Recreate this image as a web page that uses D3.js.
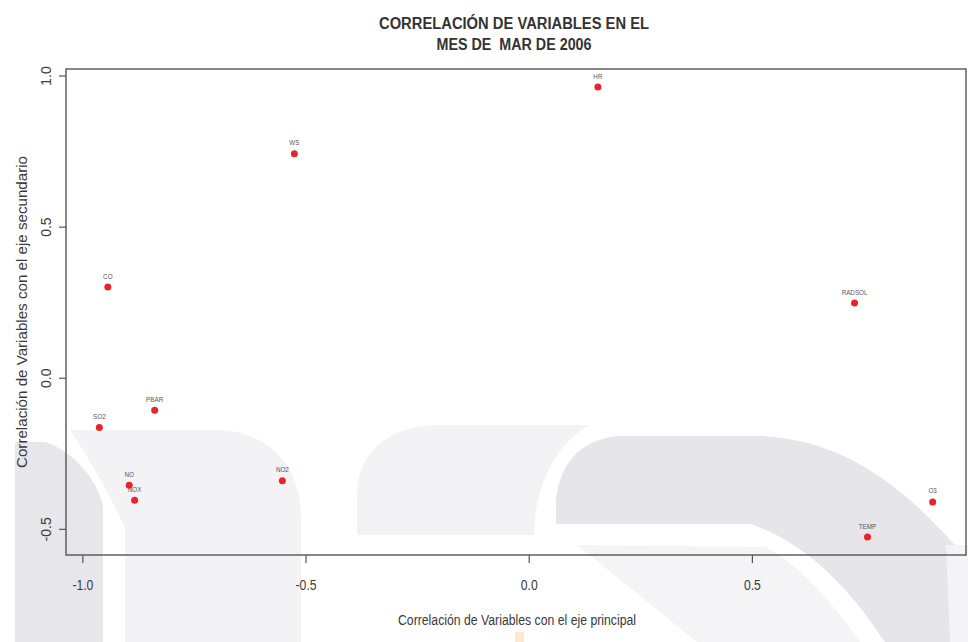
<!DOCTYPE html>
<html>
<head>
<meta charset="utf-8">
<script src="https://cdn.jsdelivr.net/npm/d3@7"></script>
<style>
  html, body { margin: 0; padding: 0; background: #ffffff; }
  svg { display: block; }
  text { font-family: "Liberation Sans", Arial, Helvetica, sans-serif; }
</style>
</head>
<body>
<svg id="chart" width="968" height="642"></svg>
<script>
// Variable names and their correlations with the first two principal axes
const varNames = ["HR", "WS", "CO", "RADSOL", "PBAR", "SO2", "NO", "NOX", "NO2", "O3", "TEMP"];
const ejePrincipal = [0.155, -0.525, -0.943, 0.730, -0.838, -0.962, -0.895, -0.883, -0.552, 0.905, 0.759];
const ejeSecundario = [0.962, 0.741, 0.300, 0.247, -0.108, -0.165, -0.356, -0.405, -0.341, -0.411, -0.527];

const xTicks = [-1.0, -0.5, 0.0, 0.5];
const yTicks = [-0.5, 0.0, 0.5, 1.0];

const titleLines = ["CORRELACIÓN DE VARIABLES EN EL", "MES DE  MAR DE 2006"];
const xTitle = "Correlación de Variables con el eje principal";
const yTitle = "Correlación de Variables con el eje secundario";

const svg = d3.select("#chart");
const plot = { left: 66, right: 966, top: 69, bottom: 555 };

// Faint background emblem
const bg = svg.append("g").attr("class", "emblem");
const emblemShapes = [
  { d: "M15,442 L45,442 C70,450 95,475 103,505 L103,642 L15,642 Z", fill: "#e6e6eb" },
  { d: "M70,430 L222,430 C265,433 300,462 301,515 L301,642 L125,642 L125,528 C110,495 90,460 70,430 Z", fill: "#f3f3f6" },
  { d: "M357,535 L357,490 C360,450 390,425 440,425 L590,425 C560,440 535,480 534,535 Z", fill: "#f3f3f6" },
  { d: "M556,524 L556,500 C560,460 585,436 625,436 L760,436 C840,440 900,480 968,560 L968,642 L885,642 C850,590 810,545 751,524 Z", fill: "#e5e5ea" },
  { d: "M577,545 L765,547 C800,565 830,600 860,642 L697,642 Z", fill: "#f4f4f7" },
  { d: "M946,545 L968,545 L968,642 L950,642 Z", fill: "#f4f4f7" },
  { d: "M515,632 L524,632 L524,642 L515,642 Z", fill: "#fde9d0" }
];
bg.selectAll("path").data(emblemShapes).join("path")
  .attr("d", d => d.d).attr("fill", d => d.fill);

// Scales with 4% padding around the data range
function padded(vals) {
  const [lo, hi] = d3.extent(vals);
  const p = (hi - lo) * 0.04;
  return [lo - p, hi + p];
}
const x = d3.scaleLinear().domain(padded(ejePrincipal)).range([plot.left, plot.right]);
const y = d3.scaleLinear().domain(padded(ejeSecundario)).range([plot.bottom, plot.top]);

const axisColor = "#555";
const textColor = "#3a3a3a";

// Plot frame
svg.append("rect")
  .attr("x", plot.left).attr("y", plot.top)
  .attr("width", plot.right - plot.left).attr("height", plot.bottom - plot.top)
  .attr("fill", "none").attr("stroke", axisColor).attr("stroke-width", 1.4);

// X axis
const xAxis = svg.append("g")
  .attr("transform", `translate(0,${plot.bottom})`)
  .call(d3.axisBottom(x).tickValues(xTicks).tickFormat(d3.format(".1f")).tickSize(8).tickPadding(17));
xAxis.select(".domain").remove();
xAxis.selectAll(".tick line").attr("stroke", axisColor).attr("stroke-width", 1.2);
xAxis.selectAll(".tick text")
  .attr("fill", textColor).attr("font-size", 14)
  .attr("transform", "scale(0.87,1)")
  .text(d => d3.format(".1f")(d).replace("−", "-"));

// Y axis (labels parallel to the axis)
const yAxis = svg.append("g")
  .attr("transform", `translate(${plot.left},0)`)
  .call(d3.axisLeft(y).tickValues(yTicks).tickFormat(d3.format(".1f")).tickSize(7));
yAxis.select(".domain").remove();
yAxis.selectAll(".tick line").attr("stroke", axisColor).attr("stroke-width", 1.2);
yAxis.selectAll(".tick text")
  .attr("fill", textColor).attr("font-size", 14)
  .attr("x", null).attr("dy", null)
  .attr("text-anchor", "middle")
  .attr("transform", "translate(-15,0) rotate(-90)")
  .text(d => d3.format(".1f")(d).replace("−", "-"));

// Title
const cx = (plot.left + plot.right) / 2;
const titleWidths = [270, 155];
const titleY = [29, 50];
svg.selectAll("text.title").data(titleLines).join("text")
  .attr("class", "title")
  .attr("x", cx - 2).attr("y", (d, i) => titleY[i])
  .attr("text-anchor", "middle")
  .attr("font-size", 16).attr("font-weight", "bold")
  .attr("fill", "#333")
  .style("white-space", "pre")
  .attr("textLength", (d, i) => titleWidths[i])
  .attr("lengthAdjust", "spacingAndGlyphs")
  .text(d => d);

// Axis titles
svg.append("text")
  .attr("x", 517).attr("y", 625)
  .attr("text-anchor", "middle")
  .attr("font-size", 14).attr("fill", textColor)
  .attr("textLength", 238).attr("lengthAdjust", "spacingAndGlyphs")
  .text(xTitle);

svg.append("text")
  .attr("transform", `translate(27,${(plot.top + plot.bottom) / 2}) rotate(-90)`)
  .attr("text-anchor", "middle")
  .attr("font-size", 14).attr("fill", textColor)
  .attr("textLength", 312).attr("lengthAdjust", "spacingAndGlyphs")
  .text(yTitle);

// Points and their labels
const pts = varNames.map((n, i) => ({ name: n, a: ejePrincipal[i], b: ejeSecundario[i] }));

svg.append("g").selectAll("circle").data(pts).join("circle")
  .attr("cx", d => x(d.a)).attr("cy", d => y(d.b))
  .attr("r", 3.5).attr("fill", "#e8232b");

svg.append("g").selectAll("g").data(pts).join("g")
  .attr("transform", d => `translate(${x(d.a)},${y(d.b) - 8.5})`)
  .append("text")
  .attr("text-anchor", "middle")
  .attr("font-size", 7).attr("fill", "#555")
  .attr("transform", "scale(0.9,1)")
  .text(d => d.name);
</script>
</body>
</html>
